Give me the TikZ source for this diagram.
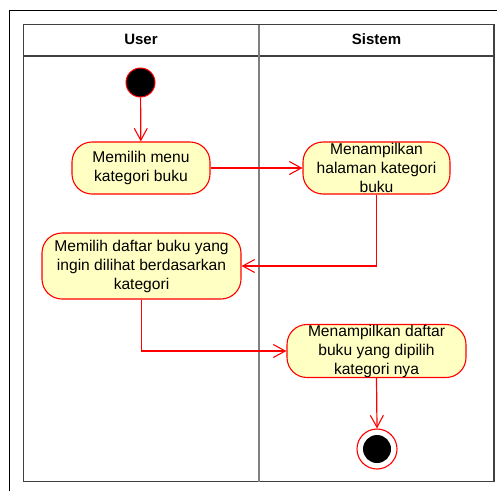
\documentclass[tikz,border=0pt]{standalone}
\usepackage{fontspec}
\setmainfont{Liberation Sans}
\usetikzlibrary{arrows.meta}
\definecolor{actfill}{HTML}{FFFFC3}
\definecolor{flowred}{HTML}{FF0000}
\tikzset{
  activity/.style={draw=flowred, fill=actfill, line width=1.1pt, rounded corners=20pt,
    align=center, inner sep=0pt, font=\fontsize{15.6}{19}\selectfont},
  flow/.style={draw=flowred, line width=1.2pt, -{Straight Barb[length=12pt,width=13pt,line width=1.1pt]}},
  lane/.style={font=\bfseries\fontsize{15}{18}\selectfont, inner sep=0pt},
}
\begin{document}
\begin{tikzpicture}[x=1pt, y=-1pt]
  \clip (0,0) rectangle (497,490);
  \fill[white] (0,0) rectangle (497,490);
  % outer frame
  \draw[black, line width=1.8pt] (9.5,10.5) rectangle (520,520);
  % swimlane table
  \draw[black!75, line width=1.4pt] (23.5,24.5) rectangle (494,481.5);
  \draw[black!75, line width=1.4pt] (23.5,56) -- (494,56);
  \draw[black!50, line width=1.8pt] (259,24.5) -- (259,481.5);
  \node[lane] (userlane) at (141,39) {User};
  \node[lane] (sistemlane) at (376.5,39) {Sistem};

  % start node
  \node[circle, draw=flowred, fill=black, line width=1pt, minimum size=29pt, inner sep=0pt] (start) at (140.5,82.5) {};

  % activities
  \node[activity, minimum width=138pt, minimum height=52pt] (a1) at (141,168)
    {Memilih menu\\kategori buku};
  \node[activity, minimum width=147pt, minimum height=52pt] (a2) at (376.5,168)
    {Menampilkan\\halaman kategori\\buku};
  \node[activity, minimum width=199pt, minimum height=66pt] (a3) at (141.5,266)
    {Memilih daftar buku yang\\ingin dilihat berdasarkan\\kategori};
  \node[activity, minimum width=179pt, minimum height=53pt] (a4) at (376.5,351)
    {Menampilkan daftar\\buku yang dipilih\\kategori nya};

  % final node
  \node[circle, draw=flowred, fill=white, line width=1.1pt, minimum size=40pt, inner sep=0pt] (final) at (377,449) {};
  \node[circle, fill=black, minimum size=28pt, inner sep=0pt] (finaldot) at (final.center) {};

  % control flows
  \draw[flow] (start) -- (a1);
  \draw[flow] (a1) -- (a2);
  \draw[flow] (a2.south) |- (a3.east);
  \draw[flow] (a3.south) |- (a4.west);
  \draw[flow] (a4.south) -- (final.north);
\end{tikzpicture}
\end{document}
